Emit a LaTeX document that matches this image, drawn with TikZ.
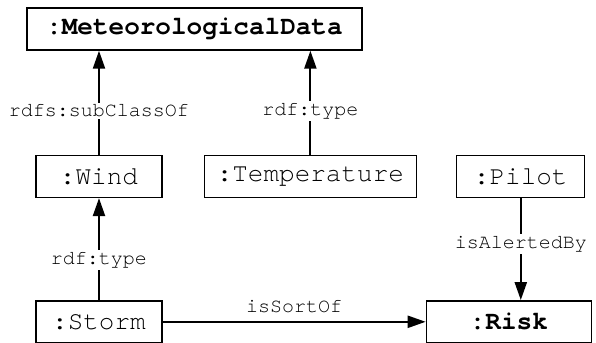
\documentclass[tikz,border=0pt]{standalone}
\usepackage{fontspec}
\setmonofont{TeX Gyre Cursor}
\usetikzlibrary{arrows.meta, positioning}

\begin{document}
\begin{tikzpicture}[
		node distance=51pt and 20pt,
		obj/.style={draw, line width=0.7pt, minimum height=21pt, inner sep=0pt, align=center, font=\fontsize{13pt}{15pt}\ttfamily},
		rel/.style={fill=white, inner sep=1pt, font=\fontsize{10pt}{12pt}\ttfamily},
		arrow/.style={-{Triangle[length=9pt, width=6pt]}, line width=1.1pt}
	]

		% frame
		\useasboundingbox (-97.25pt,14.5pt) rectangle (200.75pt,-157pt);

		% Nodes
		\node[obj, minimum width=167.5pt] (meteo) {\textbf{:MeteorologicalData}};
		\node[obj, minimum width=63pt, below=52pt of meteo, xshift=-47.75pt] (wind) {:Wind};
		\node[obj, minimum width=106pt, right=20.5pt of wind] (temp) {:Temperature};
		\node[obj, minimum width=64pt, right=19.5pt of temp] (pilot) {:Pilot};
		\node[obj, minimum width=63pt, below=of wind] (storm) {:Storm};
		\node[obj, minimum width=82.5pt, right=131.5pt of storm] (risk) {\textbf{:Risk}};

		% Arrows
		\draw[arrow] (wind) -- (wind |- meteo.south) node[rel, pos=0.42] {rdfs:subClassOf};
		\draw[arrow] (temp) -- (temp |- meteo.south) node[rel, pos=0.42] {rdf:type};
		\draw[arrow] (storm) -- (wind) node[rel, midway, yshift=-5.5pt] {rdf:type};
		\draw[arrow] (pilot) -- (pilot |- risk.north) node[rel, pos=0.45] {isAlertedBy};
		\draw[arrow] (storm) -- (risk) node[rel, fill=none, midway, above=3pt] {isSortOf};

	\end{tikzpicture}
\end{document}
